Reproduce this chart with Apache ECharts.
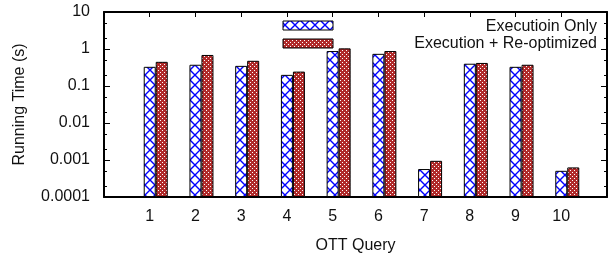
<!DOCTYPE html>
<html>
<head>
<meta charset="utf-8">
<script src="https://cdn.jsdelivr.net/npm/echarts@6/dist/echarts.min.js"></script>
<style>
  html, body { margin: 0; padding: 0; background: #fff; }
  #chart { width: 613px; height: 259px; }
</style>
</head>
<body>
<div id="chart"></div>
<script>
// values
const queries = ['', '1', '2', '3', '4', '5', '6', '7', '8', '9', '10', '']
const execOnly = ['-', 0.33, 0.375, 0.35, 0.20, 0.88, 0.74, 0.00057, 0.40, 0.33, 0.00051, '-']
const execReopt = ['-', 0.45, 0.69, 0.48, 0.245, 1.04, 0.88, 0.00095, 0.42, 0.375, 0.00063, '-']
const yTickValues = [0.0001, 0.001, 0.01, 0.1, 1, 10]
const yTickLabels = ['0.0001', '0.001', '0.01', '0.1', '1', '10']
const yMinorValues = [
  0.0002, 0.0005, 0.002, 0.005, 0.02, 0.05, 0.2, 0.5, 2, 5
]

const FONT = 'Liberation Sans, Arial, Helvetica, sans-serif'

// hatch patterns like gnuplot's
function crossPattern() {
  const c = document.createElement('canvas')
  c.width = 10; c.height = 10
  const g = c.getContext('2d')
  g.fillStyle = '#fff'
  g.fillRect(0, 0, 10, 10)
  g.strokeStyle = '#0000ff'
  g.lineWidth = 1.4
  g.beginPath()
  g.moveTo(0, 0); g.lineTo(10, 10)
  g.moveTo(10, 0); g.lineTo(0, 10)
  g.stroke()
  return c
}
function checkPattern() {
  const c = document.createElement('canvas')
  c.width = 4; c.height = 4
  const g = c.getContext('2d')
  g.fillStyle = '#b02a2a'
  g.fillRect(0, 0, 4, 4)
  g.fillStyle = '#fff'
  g.fillRect(0, 0, 1, 1)
  g.fillRect(2, 2, 1, 1)
  return c
}
const bluePat = { image: crossPattern(), repeat: 'repeat' }
const redPat = { image: checkPattern(), repeat: 'repeat' }

const chart = echarts.init(document.getElementById('chart'), null, { renderer: 'canvas' })

const frame = { show: true, onZero: false, lineStyle: { color: '#000', width: 2 } }

const option = {
  animation: false,
  grid: { left: 104, right: 6, top: 12, bottom: 59 },
  xAxis: [
    {
      type: 'category',
      data: queries,
      boundaryGap: false,
      axisLine: frame,
      axisTick: { show: true, inside: true, length: 5, lineStyle: { color: '#000' } },
      axisLabel: { color: '#111', fontSize: 16, fontFamily: FONT, margin: 12 },
      name: 'OTT Query',
      nameLocation: 'middle',
      nameGap: 41,
      nameTextStyle: { color: '#111', fontSize: 16, fontFamily: FONT }
    },
    {
      type: 'category',
      data: queries,
      boundaryGap: false,
      position: 'top',
      axisLine: frame,
      axisTick: { show: true, inside: true, length: 5, lineStyle: { color: '#000' } },
      axisLabel: { show: false }
    }
  ],
  yAxis: [
    {
      type: 'log',
      logBase: 10,
      min: 0.0001,
      max: 10,
      startValue: 0.0001,
      axisLine: frame,
      splitLine: { show: false },
      axisTick: { show: true, inside: true, length: 6, customValues: yTickValues, lineStyle: { color: '#000' } },
      axisLabel: {
        customValues: yTickValues,
        color: '#111', fontSize: 16, fontFamily: FONT, margin: 14,
        formatter: v => yTickLabels[yTickValues.findIndex(t => Math.abs(Math.log10(t) - Math.log10(v)) < 1e-6)]
      },
      name: 'Running Time (s)',
      nameLocation: 'middle',
      nameGap: 76,
      nameTextStyle: { color: '#111', fontSize: 16, fontFamily: FONT }
    },
    {
      type: 'log',
      logBase: 10,
      min: 0.0001,
      max: 10,
      position: 'right',
      axisLine: frame,
      splitLine: { show: false },
      axisTick: { show: true, inside: true, length: 6, customValues: yTickValues, lineStyle: { color: '#000' } },
      axisLabel: { show: false }
    },
    {
      type: 'log',
      logBase: 10,
      min: 0.0001,
      max: 10,
      position: 'left',
      axisLine: { show: false },
      splitLine: { show: false },
      axisTick: { show: true, inside: true, length: 3, customValues: yMinorValues, lineStyle: { color: '#000' } },
      axisLabel: { show: false }
    },
    {
      type: 'log',
      logBase: 10,
      min: 0.0001,
      max: 10,
      position: 'right',
      axisLine: { show: false },
      splitLine: { show: false },
      axisTick: { show: true, inside: true, length: 3, customValues: yMinorValues, lineStyle: { color: '#000' } },
      axisLabel: { show: false }
    }
  ],
  series: [
    // empty slot so the blue bar sits on the tick, as gnuplot does
    { type: 'bar', name: 'pad', data: queries.map(() => '-'), barWidth: 12, barGap: '0%' },
    {
      type: 'bar', name: 'Executioin Only', data: execOnly, barWidth: 12, barGap: '0%',
      itemStyle: { color: bluePat, borderColor: '#000', borderWidth: 1 }
    },
    {
      type: 'bar', name: 'Execution + Re-optimized', data: execReopt, barWidth: 12, barGap: '0%',
      itemStyle: { color: redPat, borderColor: '#000', borderWidth: 1 }
    }
  ],
  graphic: [
    { type: 'rect', shape: { x: 283, y: 21, width: 50, height: 9 }, style: { fill: bluePat, stroke: '#000', lineWidth: 1 } },
    { type: 'text', x: 597, y: 27, style: { text: 'Executioin Only', align: 'right', verticalAlign: 'middle', fill: '#111', font: '16px ' + FONT } },
    { type: 'rect', shape: { x: 283, y: 39, width: 50, height: 9 }, style: { fill: redPat, stroke: '#000', lineWidth: 1 } },
    { type: 'text', x: 597, y: 44, style: { text: 'Execution + Re-optimized', align: 'right', verticalAlign: 'middle', fill: '#111', font: '16px ' + FONT } }
  ]
}

chart.setOption(option)
</script>
</body>
</html>
